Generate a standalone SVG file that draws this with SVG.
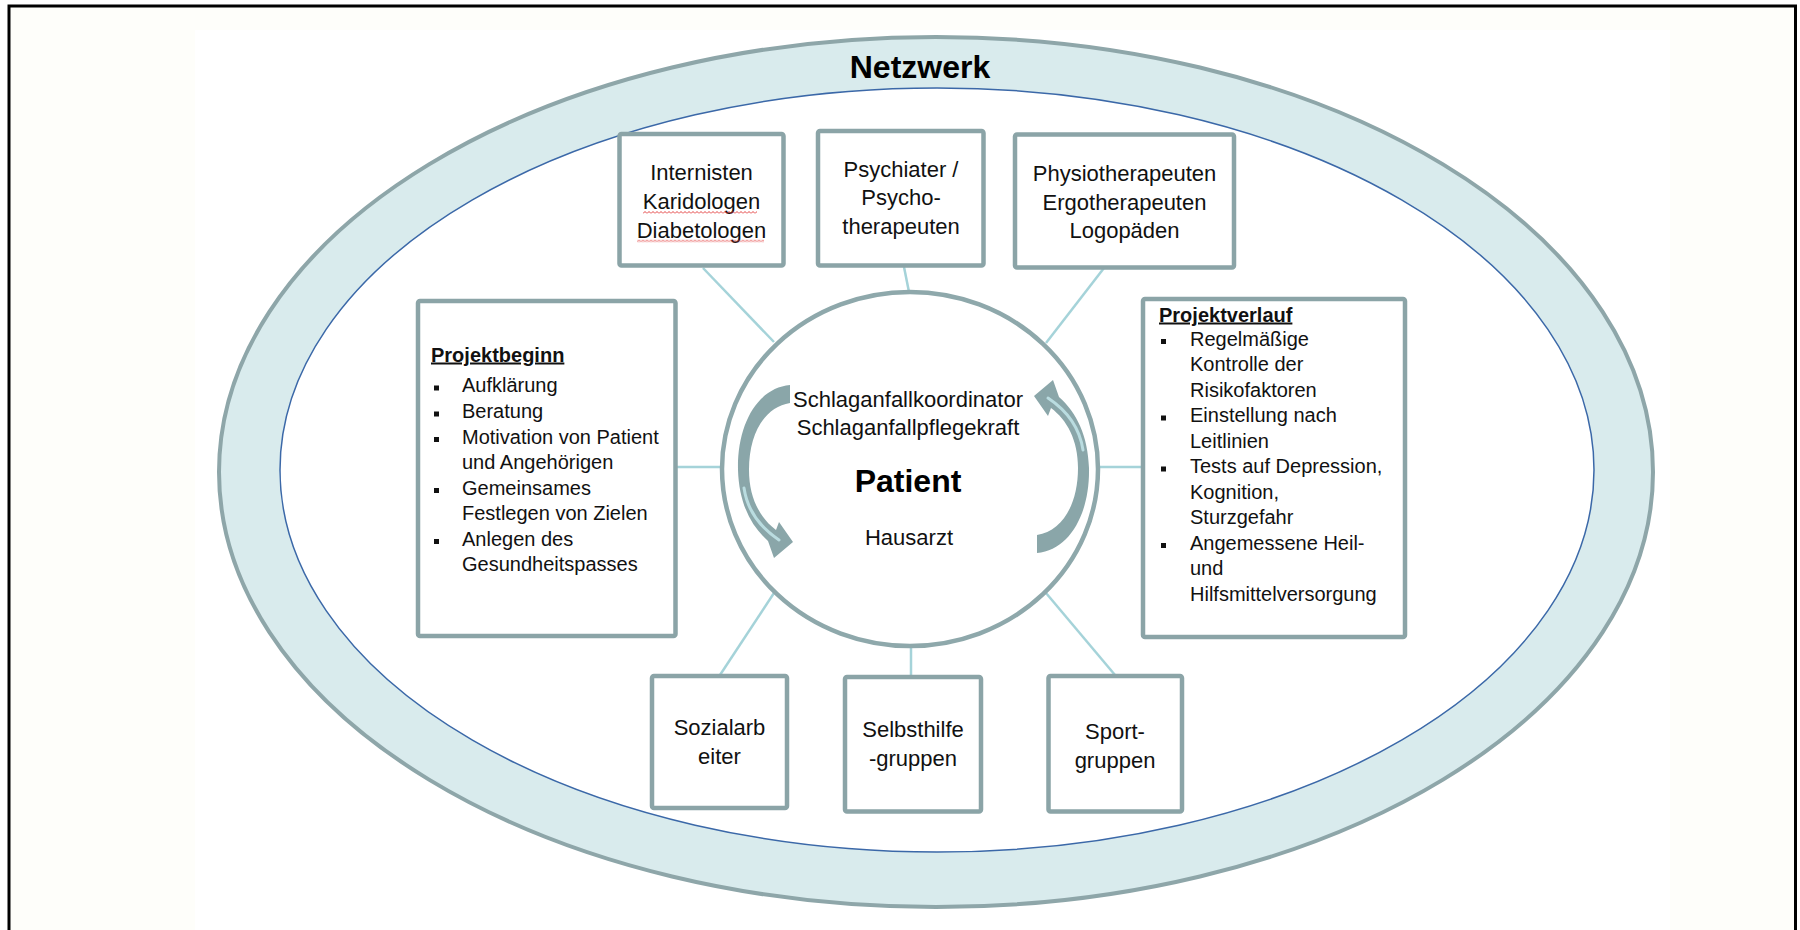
<svg xmlns="http://www.w3.org/2000/svg" width="1800" height="930" viewBox="0 0 1800 930">
  <style>
    .box { fill: #ffffff; stroke: #8ba4a7; stroke-width: 4.5; }
    .hub { fill: #ffffff; stroke: #8ea8ab; stroke-width: 4.5; }
    .link { stroke: #a5d3d9; stroke-width: 2.5; fill: none; }
    .lbl { font-family: "Liberation Sans", Arial, sans-serif; font-size: 22px; fill: #111111; text-anchor: middle; }
    .lst { font-family: "Liberation Sans", Arial, sans-serif; font-size: 20px; fill: #111111; }
    .hd { font-family: "Liberation Sans", Arial, sans-serif; font-size: 20px; font-weight: bold; fill: #111111; text-decoration: underline; }
    .bul { fill: #111111; }
    .ttl { font-family: "Liberation Sans", Arial, sans-serif; font-weight: bold; fill: #000000; text-anchor: middle; }
    .arrow { fill: #8aa6a9; }
    .gloss { fill: none; stroke: #bfe2e6; stroke-width: 3; stroke-linecap: round; opacity: 0.9; }
  </style>
  <defs>
    <!-- red spell-check squiggle -->
    <pattern id="wavy" x="0" y="0" width="4" height="3" patternUnits="userSpaceOnUse">
      <path d="M0 2.5 L2 0.5 L4 2.5" fill="none" stroke="#e02a2a" stroke-width="0.9"/>
    </pattern>
    <!-- one half of the circular cycle arrow (left side, pointing down/right) -->
    <g id="cycleArrow">
      <path class="arrow" d="M 790 385 C 757 388, 737 425, 738 470 C 739 502, 750 525, 768 541 L 774 558 L 793 542 L 779 522 L 776 530 C 760 518, 749 498, 749 470 C 749 433, 765 407, 790 403 Z"/>
      <path class="gloss" d="M 744 488 C 747 508, 758 526, 779 540"/>
    </g>
  </defs>

  <!-- page background and frame -->
  <rect x="0" y="0" width="1800" height="930" fill="#ffffff"/>
  <rect x="9" y="6" width="1786.5" height="930" fill="#fefefa"/>
  <rect x="195" y="30" width="1475" height="900" fill="#ffffff"/>
  <path d="M 9 935 L 9 6 L 1795.5 6 L 1795.5 935" fill="none" stroke="#000000" stroke-width="3"/>

  <!-- network ring -->
  <g id="network">
    <ellipse cx="936" cy="472" rx="717" ry="435" fill="#d9ebed" stroke="#8ea6a9" stroke-width="4"/>
    <ellipse cx="937" cy="470" rx="657" ry="382" fill="#ffffff" stroke="#3b68a8" stroke-width="1.5"/>
    <text class="ttl" x="920" y="78" font-size="32">Netzwerk</text>
  </g>

  <!-- connectors -->
  <g id="connectors">
    <line class="link" x1="703" y1="268" x2="774" y2="342"/>
    <line class="link" x1="904" y1="267" x2="909" y2="292"/>
    <line class="link" x1="1104" y1="268" x2="1046" y2="343"/>
    <line class="link" x1="677" y1="467" x2="722" y2="467"/>
    <line class="link" x1="1098" y1="467" x2="1143" y2="467"/>
    <line class="link" x1="720" y1="675" x2="774" y2="593"/>
    <line class="link" x1="911" y1="644" x2="911" y2="676"/>
    <line class="link" x1="1115" y1="675" x2="1046" y2="593"/>
  </g>

  <!-- central hub -->
  <g id="patient">
    <ellipse class="hub" cx="910" cy="469" rx="188" ry="177"/>
    <use href="#cycleArrow"/>
    <use href="#cycleArrow" transform="rotate(180 913.5 469)"/>
    <text class="lbl" x="908" y="406.5" font-size="21.5">Schlaganfallkoordinator</text>
    <text class="lbl" x="908" y="434.5" font-size="21.5">Schlaganfallpflegekraft</text>
    <text class="ttl" x="908" y="491.5" font-size="32">Patient</text>
    <text class="lbl" x="909" y="544.5" font-size="23">Hausarzt</text>
  </g>

  <!-- specialist boxes (top row) -->
  <g id="internisten">
    <rect class="box" x="619.5" y="134" width="164" height="131.5" rx="2"/>
    <text class="lbl" x="701.5" y="180">Internisten</text>
    <text class="lbl" x="701.5" y="209">Karidologen</text>
    <text class="lbl" x="701.5" y="237.5">Diabetologen</text>
    <g transform="translate(643 211)"><rect width="114" height="3" fill="url(#wavy)"/></g>
    <g transform="translate(637 239.5)"><rect width="127" height="3" fill="url(#wavy)"/></g>
  </g>
  <g id="psychiater">
    <rect class="box" x="818" y="131" width="165.5" height="134.5" rx="2"/>
    <text class="lbl" x="901" y="176.5">Psychiater /</text>
    <text class="lbl" x="901" y="205">Psycho-</text>
    <text class="lbl" x="901" y="233.5">therapeuten</text>
  </g>
  <g id="therapeuten">
    <rect class="box" x="1015" y="134.5" width="219" height="133" rx="2"/>
    <text class="lbl" x="1124.5" y="181">Physiotherapeuten</text>
    <text class="lbl" x="1124.5" y="209.5">Ergotherapeuten</text>
    <text class="lbl" x="1124.5" y="238">Logopäden</text>
  </g>

  <!-- project start -->
  <g id="projektbeginn">
    <rect class="box" x="418" y="301" width="257.5" height="335" rx="2"/>
    <text class="hd" x="431" y="361.5">Projektbeginn</text>
    <rect class="bul" x="434" y="385.5" width="5" height="5"/>
    <text class="lst" x="462" y="392">Aufklärung</text>
    <rect class="bul" x="434" y="411.5" width="5" height="5"/>
    <text class="lst" x="462" y="418">Beratung</text>
    <rect class="bul" x="434" y="437" width="5" height="5"/>
    <text class="lst" x="462" y="443.5">Motivation von Patient</text>
    <text class="lst" x="462" y="469">und Angehörigen</text>
    <rect class="bul" x="434" y="488" width="5" height="5"/>
    <text class="lst" x="462" y="494.5">Gemeinsames</text>
    <text class="lst" x="462" y="520">Festlegen von Zielen</text>
    <rect class="bul" x="434" y="539" width="5" height="5"/>
    <text class="lst" x="462" y="545.5">Anlegen des</text>
    <text class="lst" x="462" y="571">Gesundheitspasses</text>
  </g>

  <!-- project course -->
  <g id="projektverlauf">
    <rect class="box" x="1143" y="299" width="262" height="338" rx="2"/>
    <text class="hd" x="1159" y="321.5">Projektverlauf</text>
    <rect class="bul" x="1161" y="339" width="5" height="5"/>
    <text class="lst" x="1190" y="345.5">Regelmäßige</text>
    <text class="lst" x="1190" y="371">Kontrolle der</text>
    <text class="lst" x="1190" y="396.5">Risikofaktoren</text>
    <rect class="bul" x="1161" y="415.5" width="5" height="5"/>
    <text class="lst" x="1190" y="422">Einstellung nach</text>
    <text class="lst" x="1190" y="447.5">Leitlinien</text>
    <rect class="bul" x="1161" y="466.5" width="5" height="5"/>
    <text class="lst" x="1190" y="473">Tests auf Depression,</text>
    <text class="lst" x="1190" y="498.5">Kognition,</text>
    <text class="lst" x="1190" y="524">Sturzgefahr</text>
    <rect class="bul" x="1161" y="543" width="5" height="5"/>
    <text class="lst" x="1190" y="549.5">Angemessene Heil-</text>
    <text class="lst" x="1190" y="575">und</text>
    <text class="lst" x="1190" y="600.5">Hilfsmittelversorgung</text>
  </g>

  <!-- community boxes (bottom row) -->
  <g id="sozialarbeiter">
    <rect class="box" x="652" y="676" width="135" height="132" rx="2"/>
    <text class="lbl" x="719.5" y="735">Sozialarb</text>
    <text class="lbl" x="719.5" y="763.5">eiter</text>
  </g>
  <g id="selbsthilfe">
    <rect class="box" x="845" y="677" width="136" height="134.5" rx="2"/>
    <text class="lbl" x="913" y="737">Selbsthilfe</text>
    <text class="lbl" x="913" y="765.5">-gruppen</text>
  </g>
  <g id="sport">
    <rect class="box" x="1048.5" y="676" width="133.5" height="135.5" rx="2"/>
    <text class="lbl" x="1115" y="739">Sport-</text>
    <text class="lbl" x="1115" y="767.5">gruppen</text>
  </g>
</svg>
